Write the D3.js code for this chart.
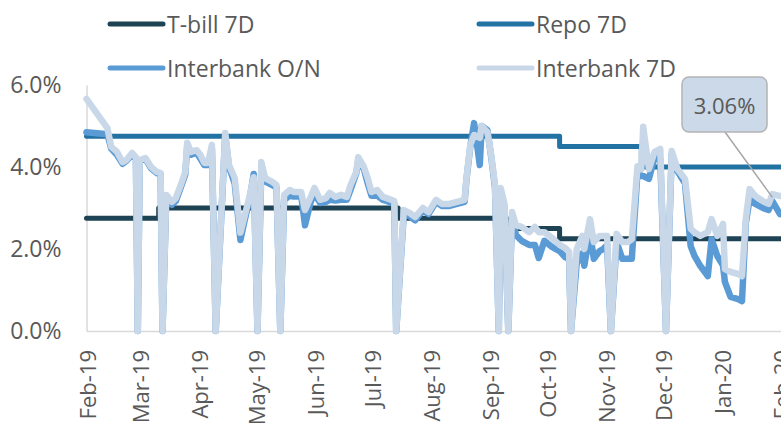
<!DOCTYPE html>
<html lang="en">
<head>
    <meta charset="UTF-8">
    <title>Policy and interbank rates</title>
    <script src="https://d3js.org/d3.v7.min.js"></script>
    <style>
        body { margin: 0; background: #fff; }
        text { font-family: "Open Sans", "Noto Sans", sans-serif; fill: #595959; }
    </style>
</head>
<body>
<div id="chart"></div>
<script>
    // interbank data (dates + values in %)
    var dates = ["2019-02-01","2019-02-12","2019-02-14","2019-02-17","2019-02-20","2019-02-22","2019-02-25","2019-02-27","2019-02-28",
        "2019-03-01","2019-03-04","2019-03-07","2019-03-10","2019-03-12","2019-03-13","2019-03-15","2019-03-18","2019-03-20","2019-03-23","2019-03-25","2019-03-26","2019-03-28","2019-03-31",
        "2019-04-02","2019-04-04","2019-04-06","2019-04-08","2019-04-10","2019-04-15","2019-04-17","2019-04-20","2019-04-23","2019-04-25","2019-04-28","2019-04-30",
        "2019-05-02","2019-05-04","2019-05-06","2019-05-10","2019-05-12","2019-05-14","2019-05-16","2019-05-19","2019-05-21","2019-05-25","2019-05-27","2019-05-30",
        "2019-06-01","2019-06-04","2019-06-07","2019-06-09","2019-06-12","2019-06-15","2019-06-18","2019-06-20","2019-06-23","2019-06-24","2019-06-27","2019-06-29",
        "2019-07-01","2019-07-04","2019-07-07","2019-07-09","2019-07-13","2019-07-14","2019-07-18","2019-07-21","2019-07-24","2019-07-28","2019-07-31",
        "2019-08-04","2019-08-07","2019-08-11","2019-08-15","2019-08-19","2019-08-20","2019-08-22","2019-08-24","2019-08-27","2019-08-28","2019-08-31",
        "2019-09-02","2019-09-04","2019-09-06","2019-09-07","2019-09-09","2019-09-11","2019-09-13","2019-09-15","2019-09-18","2019-09-22","2019-09-25","2019-09-27","2019-09-30",
        "2019-10-04","2019-10-08","2019-10-11","2019-10-13","2019-10-14","2019-10-17","2019-10-20","2019-10-21","2019-10-24","2019-10-26","2019-10-29","2019-10-31",
        "2019-11-02","2019-11-04","2019-11-07","2019-11-10","2019-11-13","2019-11-15","2019-11-18","2019-11-20","2019-11-21","2019-11-24","2019-11-27","2019-11-30",
        "2019-12-03","2019-12-06","2019-12-09","2019-12-13","2019-12-16","2019-12-18","2019-12-21","2019-12-25","2019-12-27","2019-12-30",
        "2020-01-02","2020-01-03","2020-01-06","2020-01-10","2020-01-12","2020-01-14","2020-01-16","2020-01-19","2020-01-23","2020-01-26","2020-01-28",
        "2020-02-01","2020-02-03"];

    var interbank7d = [5.66,4.95,4.49,4.37,4.12,4.17,4.34,4.24,0,
        4.17,4.22,4.00,3.88,3.85,0,3.32,3.15,3.24,3.61,3.88,4.59,4.37,4.41,
        4.29,4.10,4.10,4.54,0,4.83,4.05,3.73,2.40,2.76,3.32,3.75,
        0,4.12,3.73,3.63,3.56,0,3.32,3.44,3.39,3.39,2.95,3.27,
        3.49,3.20,3.24,3.37,3.27,3.32,3.27,3.56,3.88,4.24,4.00,3.73,
        3.39,3.44,3.27,3.24,3.17,0,2.95,2.88,2.78,3.00,2.90,
        3.20,3.10,3.10,3.15,3.20,3.73,4.54,4.78,4.71,5.00,4.85,
        4.29,3.56,0,3.49,3.10,0,2.90,2.58,2.54,2.41,2.54,2.41,2.41,
        2.27,2.10,2.02,1.93,0,2.00,2.32,2.00,2.73,2.17,2.32,2.32,
        2.32,0,2.37,2.17,2.17,2.24,4.02,3.95,4.98,3.95,4.37,4.44,
        0,4.39,3.95,3.71,2.49,2.41,2.32,2.41,2.73,2.32,
        2.61,1.51,1.44,1.39,1.34,2.73,3.46,3.29,3.17,3.10,3.34,
        3.29,3.29];

    var interbankON = [4.85,4.80,4.45,4.30,4.08,4.15,4.30,4.20,0,
        4.15,4.20,3.97,3.85,3.82,0,3.25,3.08,3.17,3.55,3.82,4.50,4.30,4.35,
        4.20,4.05,4.05,4.45,0,4.75,4.00,3.60,2.22,2.65,3.25,3.83,
        0,3.95,3.65,3.55,3.50,0,3.20,3.30,3.28,3.30,2.58,3.15,
        3.35,3.12,3.15,3.20,3.18,3.20,3.20,3.45,3.85,4.15,3.95,3.60,
        3.30,3.30,3.20,3.17,3.10,0,2.85,2.80,2.70,2.95,2.85,
        3.15,3.05,3.05,3.10,3.15,3.70,4.50,5.07,4.05,5.00,4.90,
        4.25,3.50,0,3.40,3.00,0,2.80,2.34,2.20,2.10,2.10,1.78,2.20,
        2.05,1.95,1.80,1.76,0,1.65,1.90,1.59,2.41,1.76,1.95,2.00,
        2.10,0,2.17,1.76,1.76,1.76,3.88,3.78,3.78,3.71,4.24,4.20,
        0,4.30,3.90,3.60,2.07,1.83,1.59,1.34,2.24,1.83,
        1.60,1.20,0.83,0.78,0.73,2.63,3.22,3.10,3.00,2.95,3.17,
        2.85,2.85];

    // policy rates (change dates)
    var tbillDates = ["2019-02-01","2019-03-11","2019-07-15","2019-09-10","2019-10-08","2020-02-03"];
    var tbillValues = [2.75,3.00,2.75,2.50,2.25,2.25];
    var repoDates = ["2019-02-01","2019-10-08","2019-11-20","2020-02-03"];
    var repoValues = [4.75,4.50,4.00,4.00];

    var yTicks = [0,2,4,6];
    var legendNames = ["T-bill 7D","Repo 7D","Interbank O/N","Interbank 7D"];
    var colors = ["#1d4354","#2272a4","#5b9bd5","#c9d8e8"];
    var callout = {date: "2020-01-28", label: "3.06%"};

    var width = 781, height = 424;
    var parse = d3.timeParse("%Y-%m-%d");

    var svg = d3.select("#chart")
        .append("svg")
        .attr("width", width)
        .attr("height", height);

    var x = d3.scaleTime()
        .domain([parse("2019-02-01"), parse("2020-02-03")])
        .range([86.5, 783.8]);

    var y = d3.scaleLinear()
        .domain([0, 6])
        .range([331, 85]);

    // axes
    var yAxis = svg.append("g")
        .attr("transform", "translate(86.5,0)")
        .call(d3.axisLeft(y).tickValues(yTicks).tickSize(0).tickPadding(25)
            .tickFormat(function(d){ return d.toFixed(1) + "%"; }));
    yAxis.select(".domain").attr("stroke", "#d9d9d9").attr("stroke-width", 1.5);
    yAxis.selectAll("text").attr("font-size", "23px").attr("fill", "#595959");

    var xAxis = svg.append("g")
        .attr("transform", "translate(0,331)")
        .call(d3.axisBottom(x).ticks(d3.timeMonth.every(1)).tickSize(0)
            .tickFormat(d3.timeFormat("%b-%y")));
    xAxis.select(".domain").attr("stroke", "#d9d9d9").attr("stroke-width", 1.5);
    xAxis.selectAll("text")
        .attr("font-size", "22px")
        .attr("fill", "#595959")
        .attr("text-anchor", "end")
        .attr("dy", null)
        .attr("y", 0)
        .attr("transform", "translate(0,19) rotate(-90)")
        .attr("dominant-baseline", "central");

    function series(ds, vs) {
        return ds.map(function(d, i){ return {date: parse(d), value: vs[i]}; });
    }

    var line = d3.line()
        .x(function(d){ return x(d.date); })
        .y(function(d){ return y(d.value); });

    var stepLine = d3.line()
        .curve(d3.curveStepAfter)
        .x(function(d){ return x(d.date); })
        .y(function(d){ return y(d.value); });

    var plot = svg.append("g")
        .attr("fill", "none")
        .attr("stroke-linejoin", "round")
        .attr("stroke-linecap", "round");

    plot.append("path")
        .attr("d", stepLine(series(tbillDates, tbillValues)))
        .attr("stroke", colors[0]).attr("stroke-width", 5);

    plot.append("path")
        .attr("d", stepLine(series(repoDates, repoValues)))
        .attr("stroke", colors[1]).attr("stroke-width", 5);

    plot.append("path")
        .attr("d", line(series(dates, interbankON)))
        .attr("stroke", colors[2]).attr("stroke-width", 6.5);

    plot.append("path")
        .attr("d", line(series(dates, interbank7d)))
        .attr("stroke", colors[3]).attr("stroke-width", 6.5);

    // callout
    var cx = x(parse(callout.date));
    var cy = y(interbank7d[dates.indexOf(callout.date)] - 0.08);
    svg.append("line")
        .attr("x1", 725).attr("y1", 132)
        .attr("x2", cx).attr("y2", cy)
        .attr("stroke", "#a6a6a6").attr("stroke-width", 1.5);
    svg.append("rect")
        .attr("x", 682).attr("y", 77)
        .attr("width", 85).attr("height", 55)
        .attr("rx", 7)
        .attr("fill", "#cbd9e9")
        .attr("stroke", "#b4b4b4")
        .attr("stroke-width", 1.5);
    svg.append("text")
        .attr("x", 724.5).attr("y", 105)
        .attr("text-anchor", "middle")
        .attr("dominant-baseline", "central")
        .attr("font-size", "22px")
        .text(callout.label);

    // legend
    var legendPos = [[108, 24], [477, 24], [108, 68], [477, 68]];
    var legend = svg.selectAll(".legend")
        .data(legendNames)
        .enter()
        .append("g")
        .attr("class", "legend")
        .attr("transform", function(d, i){ return "translate(" + legendPos[i][0] + "," + legendPos[i][1] + ")"; });

    legend.append("line")
        .attr("x1", 2).attr("x2", 55)
        .attr("stroke", function(d, i){ return colors[i]; })
        .attr("stroke-width", 5)
        .attr("stroke-linecap", "round");

    legend.append("text")
        .attr("x", 59)
        .attr("dominant-baseline", "central")
        .attr("font-size", "23px")
        .text(function(d){ return d; });
</script>
</body>
</html>
